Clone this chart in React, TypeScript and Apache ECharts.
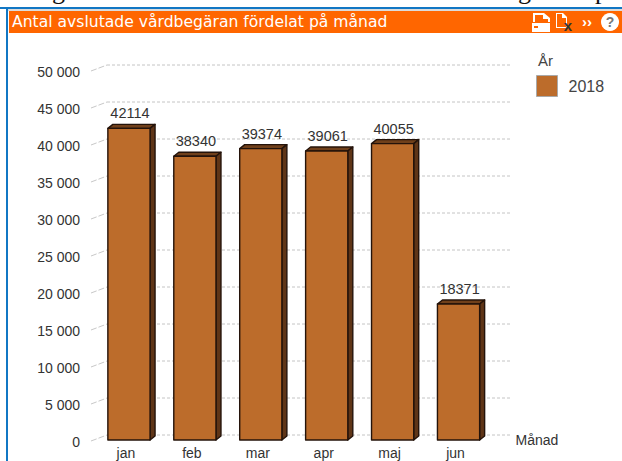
import React, { useEffect, useRef } from "react";
import * as echarts from "echarts";

const months = ["jan", "feb", "mar", "apr", "maj", "jun"];
const values2018 = [42114, 38340, 39374, 39061, 40055, 18371];
const yTicks = [0, 5000, 10000, 15000, 20000, 25000, 30000, 35000, 40000, 45000, 50000];
const titleText = "Antal avslutade vårdbegäran fördelat på månad";
const legendTitle = "År";
const seriesName = "2018";
const xName = "Månad";
const clippedGlyphs = [
  { text: "g", x: 52 },
  { text: "g", x: 518 },
  { text: "p", x: 595 },
];

const FONT = '"Liberation Sans", Arial, sans-serif';
const DX = 5;
const DY = 4;

const fmt = (v: number) => String(v).replace(/\B(?=(\d{3})+$)/g, " ");

echarts.graphic.registerShape(
  "printerIcon",
  echarts.graphic.extendPath(
    "M1 0H12L18 5V9H16V6H11V2H3V9H1ZM0 10H18V19H0ZM2 13V15H6V13Z",
    {}
  )
);
echarts.graphic.registerShape(
  "docIcon",
  echarts.graphic.extendPath(
    "M0 0H7L11 4V15H0ZM1 1V14H10V5H6V1Z",
    {}
  )
);

export default function App() {
  const ref = useRef<HTMLDivElement>(null);
  useEffect(() => {
    document.body.style.margin = "0";
    const chart = echarts.init(ref.current!, undefined, { renderer: "svg" });
    chart.setOption({
      animation: false,
      backgroundColor: "#ffffff",
      grid: { left: 96, top: 70, width: 395.5, height: 370, containLabel: false },
      legend: {
        left: 536,
        top: 75,
        padding: 0,
        orient: "vertical",
        itemWidth: 21,
        itemHeight: 21,
        itemGap: 6,
        selectedMode: false,
        data: [
          {
            name: seriesName,
            icon: "rect",
            itemStyle: { color: "#BC6C2B", borderColor: "#a9a9a9", borderWidth: 1 },
          },
        ],
        textStyle: { fontFamily: FONT, fontSize: 16, color: "#444", padding: [0, 0, 0, 6] },
      },
      xAxis: {
        type: "category",
        data: months,
        axisLine: { show: false },
        axisTick: { show: false },
        axisLabel: { fontFamily: FONT, fontSize: 14, color: "#333", margin: 6, padding: [0, 6, 0, 0] },
        name: xName,
        nameLocation: "end",
        nameGap: 24,
        nameTextStyle: { fontFamily: FONT, fontSize: 14, color: "#333", padding: [24, 0, 0, 0] },
      },
      yAxis: {
        type: "value",
        min: 0,
        max: 50000,
        interval: 5000,
        splitLine: { show: false },
        axisLine: { show: false },
        axisTick: { show: false },
        axisLabel: {
          fontFamily: FONT,
          fontSize: 14,
          color: "#333",
          margin: 16,
          verticalAlign: "top",
          lineHeight: 4,
          formatter: (v: number) => fmt(v),
        },
      },
      series: [
        {
          type: "custom",
          name: "grid",
          silent: true,
          z: 1,
          clip: false,
          data: yTicks.map((t) => [0, t]),
          renderItem: (params: any, api: any) => {
            const y = api.coord([0, api.value(1)])[1];
            const backY = y - DY - 1;
            return {
              type: "group",
              children: [
                {
                  type: "line",
                  shape: { x1: 91, y1: y + 1, x2: 107, y2: backY },
                  style: { stroke: "#c8c8c8", lineWidth: 1, lineDash: [6, 2] },
                },
                {
                  type: "line",
                  shape: { x1: 107, y1: backY, x2: 512, y2: backY },
                  style: { stroke: "#c4c4c4", lineWidth: 1, lineDash: [3, 2] },
                },
              ],
            };
          },
        },
        {
          type: "custom",
          name: seriesName,
          silent: true,
          z: 2,
          clip: false,
          data: values2018.map((v, i) => [i, v]),
          renderItem: (params: any, api: any) => {
            const v = api.value(1);
            const [cx, top] = api.coord([api.value(0), v]);
            const [, bottom] = api.coord([api.value(0), 0]);
            const w = api.size([1, 0])[0] * 0.64;
            const l = cx - w / 2;
            const r = cx + w / 2;
            const border = { stroke: "#24130a", lineWidth: 1.4, lineJoin: "round" };
            return {
              type: "group",
              children: [
                {
                  type: "polygon",
                  shape: { points: [[l, top], [l + DX, top - DY], [r + DX, top - DY], [r, top]] },
                  style: { fill: "#70401b", ...border },
                },
                {
                  type: "polygon",
                  shape: { points: [[r, top], [r + DX, top - DY], [r + DX, bottom - DY], [r, bottom]] },
                  style: { fill: "#5f3517", ...border },
                },
                {
                  type: "rect",
                  shape: { x: l, y: top, width: w, height: bottom - top },
                  style: { fill: "#BC6C2B", ...border },
                },
                {
                  type: "text",
                  style: {
                    text: String(v),
                    x: cx + 1,
                    y: top - 15,
                    textAlign: "center",
                    textVerticalAlign: "middle",
                    fill: "#333",
                    font: `14.5px ${FONT}`,
                  },
                },
              ],
            };
          },
        },
      ],
      graphic: [
        ...clippedGlyphs.map((g) => ({
          type: "text",
          x: g.x,
          y: -10,
          style: {
            text: g.text,
            fill: "#111",
            font: '26px "Liberation Serif", serif',
            textVerticalAlign: "middle",
          },
        })),
        { type: "rect", shape: { x: 0, y: 7, width: 622, height: 2 }, style: { fill: "#1177c4" } },
        { type: "rect", shape: { x: 6, y: 7, width: 2, height: 454 }, style: { fill: "#1177c4" } },
        { type: "rect", shape: { x: 8, y: 9, width: 614, height: 2 }, style: { fill: "#dcdcdc" } },
        { type: "rect", shape: { x: 9, y: 11, width: 613, height: 22 }, style: { fill: "#ff6600" } },
        {
          type: "text",
          x: 12,
          y: 22,
          style: {
            text: titleText,
            fill: "#ffffff",
            font: '15.6px "DejaVu Sans", sans-serif',
            textVerticalAlign: "middle",
          },
        },
        {
          type: "text",
          x: 538,
          y: 60,
          style: { text: legendTitle, fill: "#444", font: `15px ${FONT}`, textVerticalAlign: "middle" },
        },
        { type: "printerIcon", x: 532, y: 13, style: { fill: "#ffffff" } },
        { type: "docIcon", x: 556, y: 13, style: { fill: "#ffffff" } },
        {
          type: "text",
          x: 568,
          y: 25,
          style: { text: "x", fill: "#333", font: `bold 15px ${FONT}`, textVerticalAlign: "middle", textAlign: "center" },
        },
        {
          type: "text",
          x: 587,
          y: 21,
          style: { text: "››", fill: "#ffffff", font: `bold 15px ${FONT}`, textVerticalAlign: "middle", textAlign: "center" },
        },
        { type: "circle", shape: { cx: 610, cy: 22, r: 9 }, style: { fill: "#ffffff" } },
        {
          type: "text",
          x: 610,
          y: 22,
          style: { text: "?", fill: "#777", font: `bold 14px ${FONT}`, textVerticalAlign: "middle", textAlign: "center" },
        },
      ],
    });
    return () => chart.dispose();
  }, []);
  return <div ref={ref} style={{ position: "absolute", left: 0, top: 0, width: 622, height: 461 }} />;
}
